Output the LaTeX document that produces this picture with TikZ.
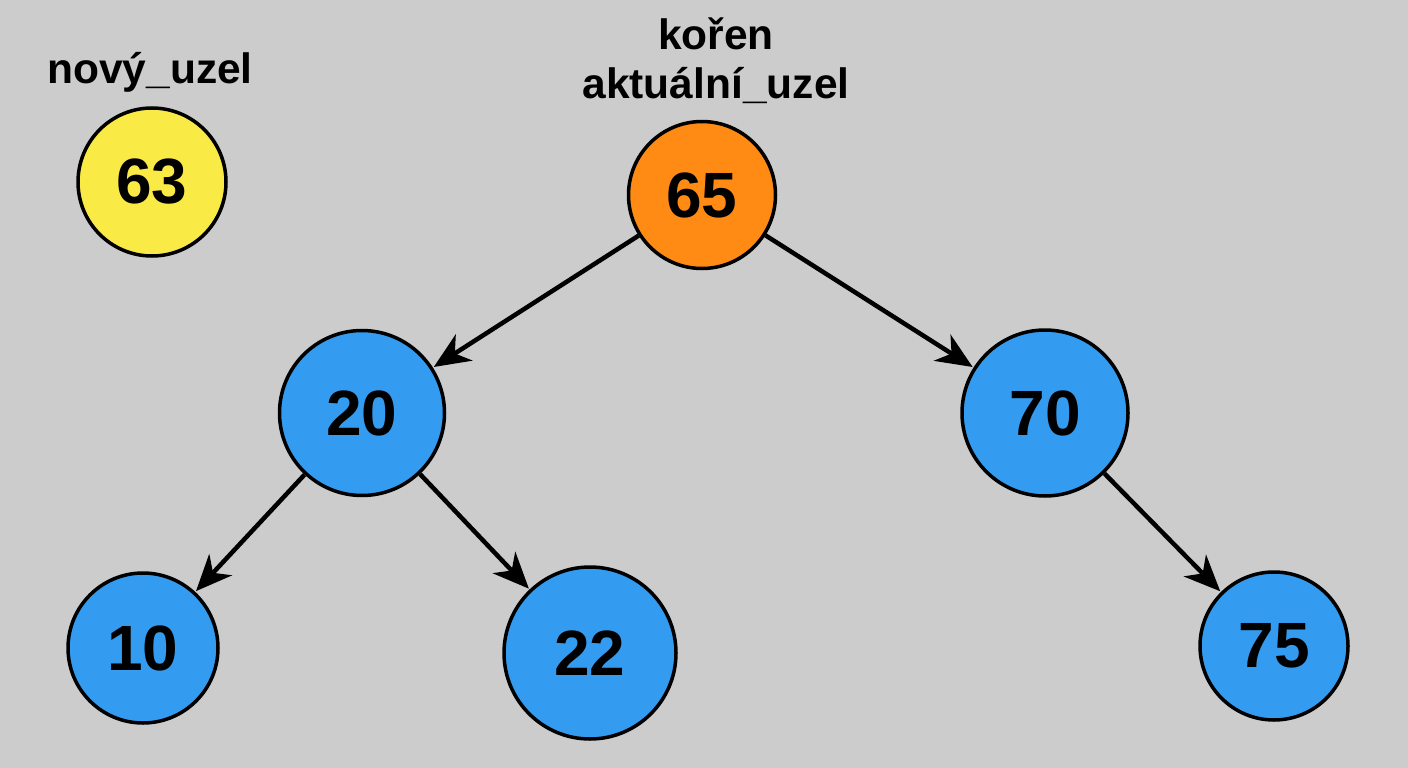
\documentclass[tikz,border=0pt]{standalone}
\usepackage{fontspec}
\setmainfont{Liberation Sans}
\usetikzlibrary{arrows.meta, positioning}
\definecolor{cBack}{RGB}{204,204,204}
\definecolor{cNew}{RGB}{250,234,70}
\definecolor{cRoot}{RGB}{255,138,20}
\definecolor{cTree}{RGB}{52,156,240}
\tikzset{
  treenode/.style={circle, draw=black, line width=3.5pt, fill=cTree,
                   font=\fontsize{64}{64}\selectfont\bfseries, inner sep=0pt},
  newnode/.style={treenode, fill=cNew},
  rootnode/.style={treenode, fill=cRoot},
  namelabel/.style={font=\fontsize{42.5}{49}\selectfont\bfseries, align=center},
  edge/.style={-{Stealth[length=36pt, width=31pt, inset=11pt]}, line width=4.5pt, shorten >=1pt}
}
\begin{document}
\begin{tikzpicture}[x=1pt, y=-1pt]
  \fill[cBack] (0,0) rectangle (1408,768);
  \useasboundingbox (0,0) rectangle (1408,768);
  % nodes
  \node[newnode, minimum size=148pt] (n63) at (152,182) {63};
  \node[rootnode, minimum size=147pt] (n65) at (702,195) {65};
  \node[treenode, minimum size=165pt] (n20) at (362,413) {20};
  \node[treenode, minimum size=166pt] (n70) at (1045,413) {70};
  \node[treenode, minimum size=150pt] (n10) at (143,648) {10};
  \node[treenode, minimum size=172pt] (n22) at (590,653) {22};
  \node[treenode, minimum size=148pt] (n75) at (1274,646) {75};
  % labels
  \node[namelabel] (lnew) at (150,72) {nový\_uzel};
  \node[namelabel] (lroot) at (716,61) {kořen\\aktuální\_uzel};
  % edges
  \draw[edge] (n65) -- (n20);
  \draw[edge] (n65) -- (n70);
  \draw[edge] (n20) -- (n10);
  \draw[edge] (n20) -- (n22);
  \draw[edge] (n70) -- (n75);
\end{tikzpicture}
\end{document}
